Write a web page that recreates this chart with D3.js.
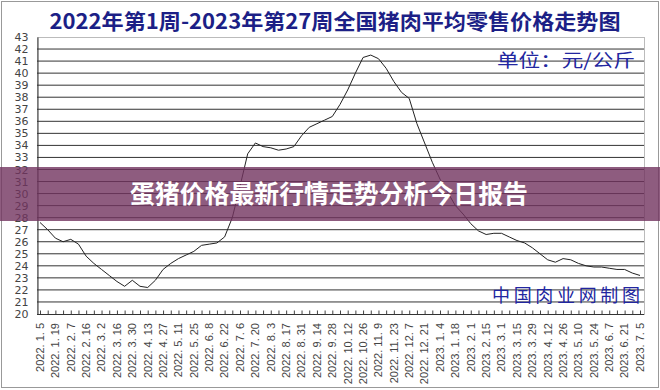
<!DOCTYPE html>
<html>
<head>
<meta charset="utf-8">
<script src="https://cdn.jsdelivr.net/npm/d3@7"></script>
<style>
body { margin: 0; background: #fff; }
svg { display: block; }
</style>
</head>
<body>
<svg id="chart" width="660" height="390"></svg>
<script>
var TITLE = "2022年第1周-2023年第27周全国猪肉平均零售价格走势图";
var UNIT = "单位：元/公斤";
var SOURCE = "中国肉业网制图";
var BANNER = "蛋猪价格最新行情走势分析今日报告";

// weekly average price (yuan/kg), 2022 week 1 .. 2023 week 27
var prices = [27.6, 27.0, 26.3, 26.0, 26.2, 25.8, 24.8, 24.2, 23.7, 23.2,
		22.7, 22.3, 22.8, 22.3, 22.2, 22.8, 23.7, 24.2, 24.6, 24.9,
		25.2, 25.7, 25.8, 25.9, 26.4, 28.0, 30.6, 33.3, 34.2, 33.9,
		33.8, 33.6, 33.7, 33.9, 34.8, 35.5, 35.8, 36.1, 36.4, 37.4,
		38.6, 40.0, 41.3, 41.5, 41.2, 40.4, 39.3, 38.4, 37.9, 35.8,
		34.2, 32.6, 31.2, 30.1, 29.0, 28.3, 27.5, 26.9, 26.6, 26.7,
		26.7, 26.4, 26.1, 25.9, 25.5, 25.0, 24.5, 24.3, 24.6, 24.5,
		24.2, 24.0, 23.9, 23.9, 23.8, 23.7, 23.7, 23.4, 23.2];

// one label every second week
var dateLabels = ["2022. 1. 5", "2022. 1. 19", "2022. 2. 7", "2022. 2. 16",
		"2022. 3. 2", "2022. 3. 16", "2022. 3. 30", "2022. 4. 13",
		"2022. 4. 27", "2022. 5. 11", "2022. 5. 25", "2022. 6. 8",
		"2022. 6. 22", "2022. 7. 6", "2022. 7. 20", "2022. 8. 3",
		"2022. 8. 17", "2022. 8. 31", "2022. 9. 14", "2022. 9. 28",
		"2022. 10. 12", "2022. 10. 26", "2022. 11. 9", "2022. 11. 23",
		"2022. 12. 7", "2022. 12. 21", "2023. 1. 4", "2023. 1. 18",
		"2023. 2. 1", "2023. 2. 15", "2023. 3. 1", "2023. 3. 15",
		"2023. 3. 29", "2023. 4. 12", "2023. 4. 26", "2023. 5. 10",
		"2023. 5. 24", "2023. 6. 7", "2023. 6. 21", "2023. 7. 5"];

var yTicks = d3.range(20, 44);

var svg = d3.select("#chart");

// plot box (note: "top" is taken by window.top)
var plotLeft = 37, plotRight = 644, plotTop = 37, plotBottom = 314;

var x = d3.scaleLinear().domain([0, prices.length - 1]).range([40, 640]);
var y = d3.scaleLinear().domain([20, 43]).range([plotBottom, plotTop]);

// outer frame of the picture
svg.append("rect") //
.attr("x", 1.5).attr("y", 1.5) //
.attr("width", 657).attr("height", 386) //
.attr("fill", "#fff") //
.attr("stroke", "#999");

// title
svg.append("text") //
.attr("x", 335).attr("y", 29) //
.attr("text-anchor", "middle") //
.attr("textLength", 571) //
.attr("lengthAdjust", "spacingAndGlyphs") //
.attr("font-family", "Noto Sans CJK SC") //
.attr("font-weight", "bold") //
.attr("font-size", 21) //
.attr("fill", "#1c1f86") //
.text(TITLE);

// plot frame (top / right light)
svg.append("rect") //
.attr("x", plotLeft + 0.5).attr("y", plotTop + 0.5) //
.attr("width", plotRight - plotLeft).attr("height", plotBottom - plotTop) //
.attr("fill", "none") //
.attr("stroke", "#bbb");

// grid lines, one per yuan
svg.append("g").selectAll("line").data(yTicks.slice(1, -1)).enter().append("line") //
.attr("x1", plotLeft).attr("x2", plotRight) //
.attr("y1", function(d) {
	return (y(d));
}) //
.attr("y2", function(d) {
	return (y(d));
}) //
.attr("stroke", "#333") //
.attr("stroke-width", 1);

// y axis
var yAxis = d3.axisLeft(y).tickValues(yTicks).tickSize(0).tickPadding(9);
var gy = svg.append("g").attr("transform", "translate(" + (plotLeft + 0.5) + ",0)").call(yAxis);
gy.select(".domain").attr("stroke", "#333");
gy.selectAll("text") //
.attr("font-family", "DejaVu Sans") //
.attr("font-size", 11) //
.attr("fill", "#444");

// x axis: weekly ticks pointing up, label every second week
var xAxis = d3.axisBottom(x).tickValues(d3.range(prices.length)).tickSize(-4).tickFormat("");
var gx = svg.append("g").attr("transform", "translate(0," + (plotBottom + 0.5) + ")").call(xAxis);
gx.select(".domain").remove();
gx.selectAll("line").attr("stroke", "#444");
gx.append("line") //
.attr("x1", plotLeft).attr("x2", plotRight) //
.attr("stroke", "#333");

svg.append("g").selectAll("text").data(dateLabels).enter().append("text") //
.attr("transform", function(d, i) {
	return ("translate(" + x(i * 2) + "," + 323 + ") rotate(-90)");
}) //
.attr("dy", "0.35em") //
.attr("text-anchor", "end") //
.attr("font-family", "Liberation Sans") //
.attr("font-size", 11) //
.attr("fill", "#444") //
.text(function(d) {
	return (d);
});

// price line
var line = d3.line().x(function(d, i) {
	return (x(i));
}).y(function(d) {
	return (y(d));
});

svg.append("path") //
.datum(prices) //
.attr("d", line) //
.attr("fill", "none") //
.attr("stroke", "#222") //
.attr("stroke-width", 1);

// unit and source notes
svg.append("text") //
.attr("x", 497).attr("y", 67) //
.attr("textLength", 138) //
.attr("lengthAdjust", "spacingAndGlyphs") //
.attr("font-family", "Noto Sans CJK SC") //
.attr("font-size", 18) //
.attr("fill", "#2226a0") //
.text(UNIT);

svg.append("text") //
.attr("x", 492).attr("y", 302) //
.attr("textLength", 148) //
.attr("lengthAdjust", "spacing") //
.attr("font-family", "Noto Sans CJK SC") //
.attr("font-size", 18) //
.attr("fill", "#2226a0") //
.text(SOURCE);

// purple banner across the middle
svg.append("rect") //
.attr("x", 0).attr("y", 167) //
.attr("width", 660).attr("height", 54) //
.attr("fill", "rgb(114,51,95)") //
.attr("fill-opacity", 0.8);

svg.append("text") //
.attr("x", 329).attr("y", 194) //
.attr("dy", "0.36em") //
.attr("text-anchor", "middle") //
.attr("textLength", 398) //
.attr("lengthAdjust", "spacingAndGlyphs") //
.attr("font-family", "Noto Sans CJK SC") //
.attr("font-weight", "bold") //
.attr("font-size", 25) //
.attr("fill", "#fff") //
.text(BANNER);
</script>
</body>
</html>
